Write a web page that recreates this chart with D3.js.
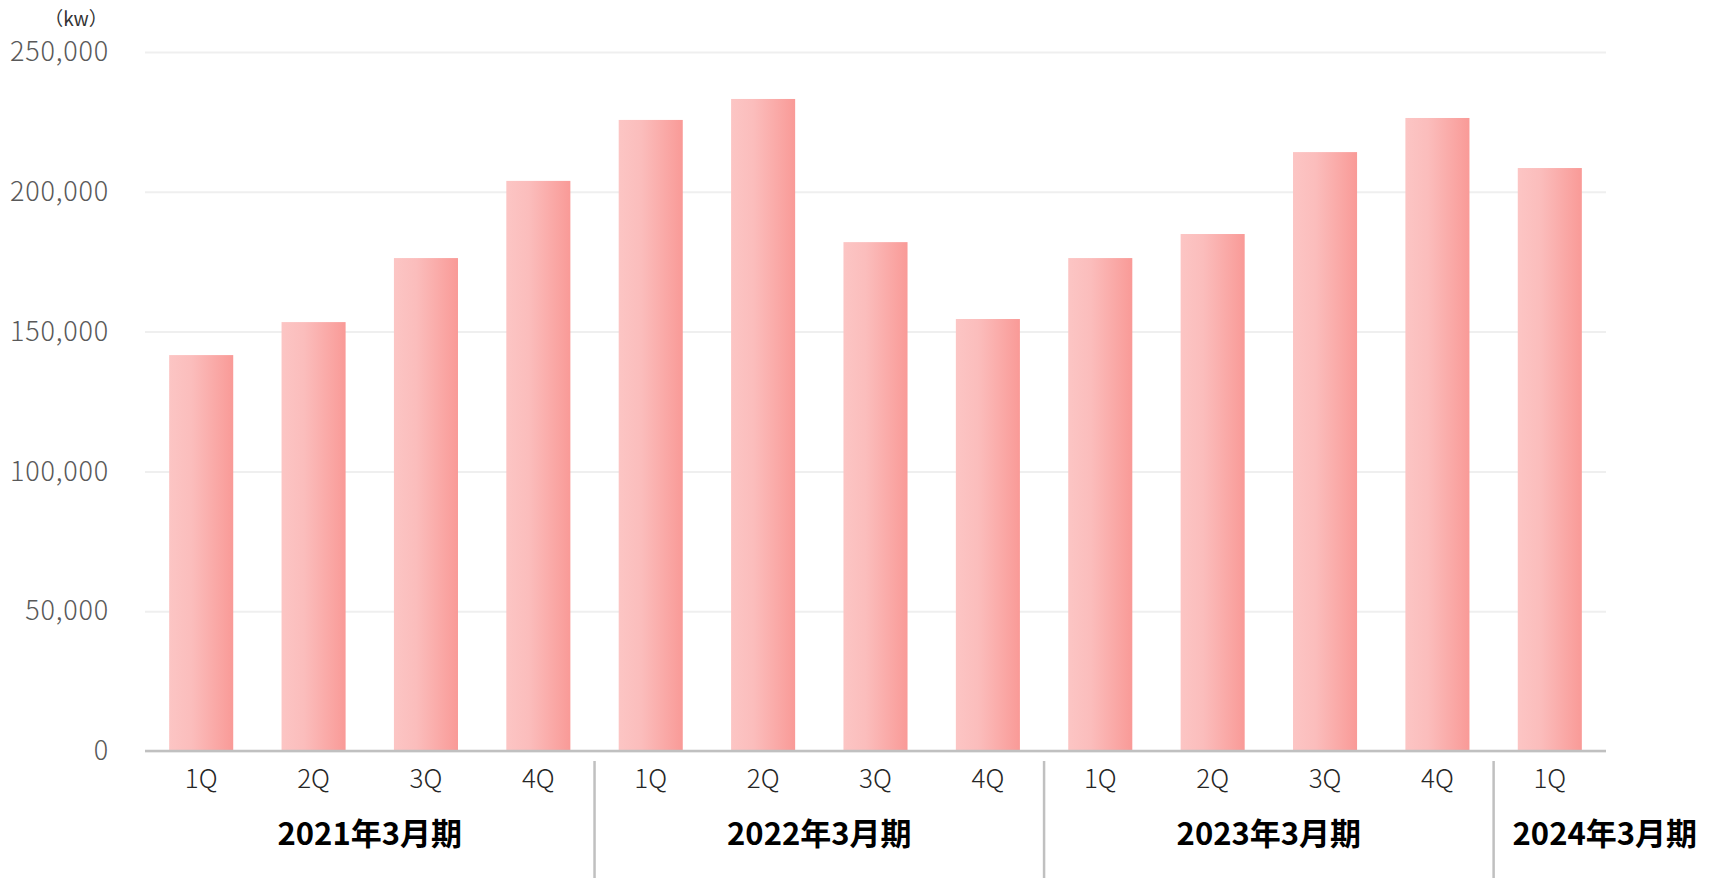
<!DOCTYPE html>
<html lang="ja">
<head>
<meta charset="utf-8">
<script src="https://cdn.jsdelivr.net/npm/d3@7/dist/d3.min.js"></script>
<style>
  html, body { margin: 0; padding: 0; background: #ffffff; }
  svg { display: block; }
</style>
</head>
<body>
<script>
// Quarterly output (kW) by fiscal year ending March
const quarters = ["1Q", "2Q", "3Q", "4Q", "1Q", "2Q", "3Q", "4Q", "1Q", "2Q", "3Q", "4Q", "1Q"];
const values = [141600, 153400, 176300, 203900, 225700, 233200, 182000, 154500, 176300, 184900, 214200, 226400, 208500];
const fiscalYears = ["2021年3月期", "2022年3月期", "2023年3月期", "2024年3月期"];
const yearOfBar = [0, 0, 0, 0, 1, 1, 1, 1, 2, 2, 2, 2, 3];
const yTicks = [0, 50000, 100000, 150000, 200000, 250000];
const unitLabel = "（kw）";

const W = 1716, H = 878;
const margin = { top: 52, right: 110, bottom: 127, left: 145 };
const innerW = W - margin.left - margin.right;
const innerH = H - margin.top - margin.bottom;

const svg = d3.select("body").append("svg")
  .attr("width", W).attr("height", H);

// Horizontal gradient used to fill each bar
const defs = svg.append("defs");
const grad = defs.append("linearGradient")
  .attr("id", "barFill").attr("x1", "0").attr("x2", "1").attr("y1", "0").attr("y2", "0");
grad.append("stop").attr("offset", "0").attr("stop-color", "#fcc5c4");
grad.append("stop").attr("offset", "0.35").attr("stop-color", "#fbbdbc");
grad.append("stop").attr("offset", "1").attr("stop-color", "#f99a97");

const idx = d3.range(values.length);
const x = d3.scaleBand().domain(idx).range([0, innerW])
  .paddingInner(0.43).paddingOuter(0.215);
const y = d3.scaleLinear().domain([0, 250000]).range([innerH, 0]);

const g = svg.append("g").attr("transform", `translate(${margin.left},${margin.top})`);

// Gridlines and y tick labels
const yAxis = d3.axisLeft(y).tickValues(yTicks)
  .tickSize(-innerW).tickPadding(36)
  .tickFormat(d3.format(","));
const ya = g.append("g").call(yAxis);
ya.select(".domain").remove();
ya.selectAll(".tick line").attr("stroke", "#efefef").attr("stroke-width", 2);
ya.selectAll(".tick text")
  .attr("fill", "#595959")
  .style("font-family", "'Noto Sans CJK JP', 'Noto Sans', sans-serif")
  .style("font-weight", 300)
  .style("font-size", "27px")
  .style("letter-spacing", "0.8px");

// Unit label
svg.append("text")
  .attr("x", 76).attr("y", 26)
  .attr("text-anchor", "middle")
  .attr("fill", "#333")
  .style("font-family", "'Noto Sans CJK JP', sans-serif")
  .style("font-size", "19px")
  .text(unitLabel);

// Bars
g.selectAll("rect.bar").data(idx).join("rect")
  .attr("class", "bar")
  .attr("x", i => x(i))
  .attr("width", x.bandwidth())
  .attr("y", i => y(values[i]))
  .attr("height", i => innerH - y(values[i]))
  .attr("fill", "url(#barFill)");

// Baseline
g.append("line")
  .attr("x1", 0).attr("x2", innerW)
  .attr("y1", innerH).attr("y2", innerH)
  .attr("stroke", "#c0c0c0").attr("stroke-width", 2.5);

// Quarter labels under each bar
const xAxis = d3.axisBottom(x).tickSize(0).tickPadding(19).tickFormat(i => quarters[i]);
const xa = g.append("g").attr("transform", `translate(0,${innerH})`).call(xAxis);
xa.select(".domain").remove();
xa.selectAll(".tick text")
  .attr("fill", "#262626")
  .style("font-family", "'Noto Sans CJK JP', 'Noto Sans', sans-serif")
  .style("font-weight", 300)
  .style("font-size", "26px");

// Fiscal-year separators between groups
const gap = x.step() * x.paddingInner() / 2;
for (let i = 1; i < values.length; i++) {
  if (yearOfBar[i] !== yearOfBar[i - 1]) {
    const sx = x(i) - gap;
    g.append("line")
      .attr("x1", sx).attr("x2", sx)
      .attr("y1", innerH + 10).attr("y2", H - margin.top)
      .attr("stroke", "#c0c0c0").attr("stroke-width", 2.5);
  }
}

// Fiscal-year labels, centred in their group span
fiscalYears.forEach((label, k) => {
  const members = idx.filter(i => yearOfBar[i] === k);
  const first = members[0], last = members[members.length - 1];
  const left = k === 0 ? x(first) : x(first) - gap;
  const right = k === fiscalYears.length - 1 ? W - margin.left : x(last) + x.bandwidth() + gap;
  const cx = k === 0 || members.length > 1
    ? (x(first) + x(last) + x.bandwidth()) / 2
    : (left + right) / 2;
  g.append("text")
    .attr("x", cx).attr("y", innerH + 94)
    .attr("text-anchor", "middle")
    .attr("fill", "#000")
    .style("font-family", "'Noto Sans CJK JP', sans-serif")
    .style("font-weight", 700)
    .style("font-size", "31px")
    .text(label);
});
</script>
</body>
</html>
